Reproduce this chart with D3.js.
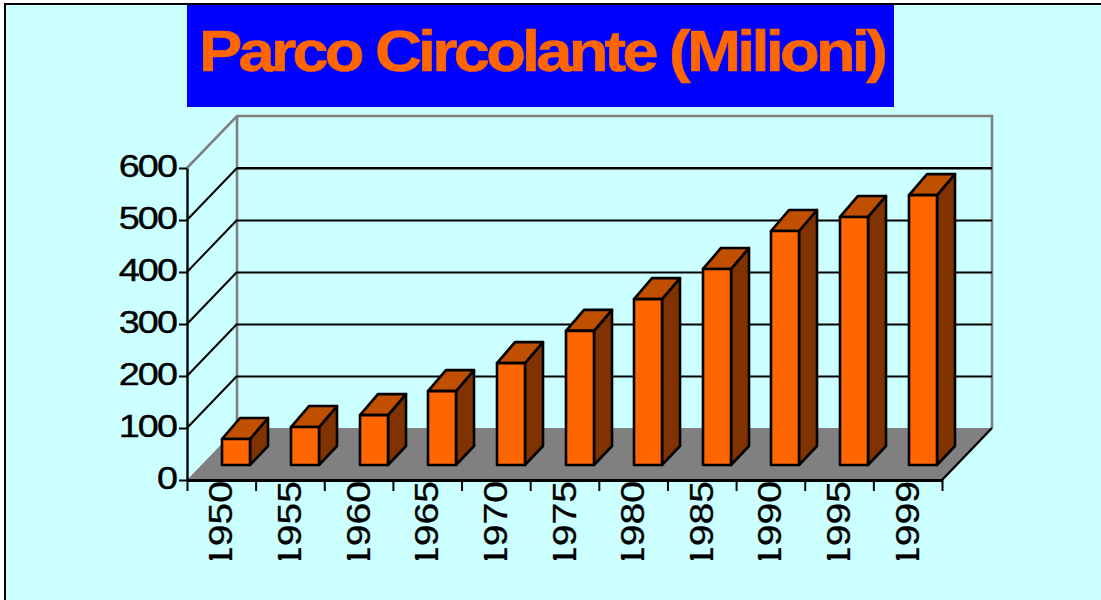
<!DOCTYPE html>
<html><head><meta charset="utf-8">
<script src="https://cdn.jsdelivr.net/npm/d3@7"></script>
<style>html,body{margin:0;padding:0;background:#fff;overflow:hidden}svg{display:block}
text{font-family:"Liberation Sans",Arial,sans-serif}</style></head>
<body><div id="chart"></div>
<script>
const years = ["1950","1955","1960","1965","1970","1975","1980","1985","1990","1995","1999"];
const parco = [50,73,96,142,196,258,319,377,450,477,519];
const yTicks = [0,100,200,300,400,500,600];
const titleText = "Parco Circolante (Milioni)";

const W = 1101, H = 600;
const left = 187, right = 942, base = 480, top600 = 168;
const depthX = 50, depthY = 52;
const barDX = 18, barDY = 21, barBaseShift = 15;

const svg = d3.select("#chart").append("svg").attr("width", W).attr("height", H);
svg.append("rect").attr("width", W).attr("height", H).attr("fill", "#fff");
svg.append("rect").attr("x", 5).attr("y", 4).attr("width", W + 20).attr("height", H + 20)
  .attr("fill", "#CCFFFF").attr("stroke", "#000").attr("stroke-width", 2);

// title
svg.append("rect").attr("x", 187).attr("y", 5).attr("width", 707).attr("height", 102).attr("fill", "#0000FF");
const titleScale = 1.14, titleWidth = 685;
const titleEl = svg.append("text").text(titleText)
  .attr("transform", `translate(199,71) scale(${titleScale},1)`)
  .attr("font-size", 57).attr("font-weight", "bold").attr("fill", "#FF6600")
  .attr("stroke", "#FF6600").attr("stroke-width", 0.6);
const natural = titleEl.node().getComputedTextLength();
titleEl.attr("letter-spacing", (titleWidth / titleScale - natural) / titleText.length);

const x = d3.scaleBand().domain(years).range([left, right]);
const xEdges = d3.scaleLinear().domain([0, years.length]).range([left, right]);
const y = d3.scaleLinear().domain([0, 600]).range([base, top600]);

// back wall
const g = svg.append("g");
const wallTop = y(600) - depthY, wallBase = y(0) - depthY;
g.append("path").attr("d", `M${left},${y(600)}L${left+depthX},${wallTop}H${right+depthX}V${wallBase}`)
  .attr("fill", "none").attr("stroke", "#808080").attr("stroke-width", 2.6);
g.append("line").attr("x1", left+depthX).attr("x2", left+depthX).attr("y1", wallTop).attr("y2", wallBase)
  .attr("stroke", "#808080").attr("stroke-width", 2.6);

// gridlines
g.selectAll("path.grid").data(yTicks.filter(d => d > 0 && d < 600)).enter().append("path")
  .attr("class", "grid")
  .attr("d", d => `M${left},${y(d)}L${left+depthX},${y(d)-depthY}`)
  .attr("fill", "none").attr("stroke", "#000").attr("stroke-width", 2);
g.selectAll("line.grid").data(yTicks.filter(d => d > 0 && d < 600)).enter().append("line")
  .attr("class", "grid")
  .attr("x1", left+depthX).attr("x2", right+depthX)
  .attr("y1", d => y(d)-depthY+0.5).attr("y2", d => y(d)-depthY+0.5)
  .attr("stroke", "#000").attr("stroke-width", 2);
g.append("line").attr("x1", left+depthX).attr("x2", right+depthX)
  .attr("y1", y(600)).attr("y2", y(600)).attr("stroke", "#000").attr("stroke-width", 2);

// floor
g.append("path")
  .attr("d", `M${left},${base}L${left+depthX},${base-depthY}H${right+depthX}L${right},${base}Z`)
  .attr("fill", "#808080");
g.append("path").attr("d", `M${right},${base}L${right+depthX},${base-depthY}`)
  .attr("stroke", "#000").attr("stroke-width", 2.4).attr("fill", "none");

// bars
const barW = 28, barBase = base - barBaseShift;
const barH = d => y(0) - y(d);
const barX = d => Math.round(x(d) + x.bandwidth()/2 + barBaseShift - barW/2);
const bars = g.selectAll("g.bar").data(years.map((yr,i)=>({yr,v:parco[i]}))).enter().append("g").attr("class","bar")
  .attr("stroke", "#000").attr("stroke-width", 2.6).attr("stroke-linejoin", "round");
bars.append("path").attr("fill", "#803300")
  .attr("d", d => { const l = barX(d.yr)+barW, t = barBase-barH(d.v);
    return `M${l},${barBase}V${t}l${barDX},${-barDY}V${barBase-barDY+2}Z`; });
bars.append("path").attr("fill", "#C05000")
  .attr("d", d => { const l = barX(d.yr), t = barBase-barH(d.v);
    return `M${l},${t}l${barDX},${-barDY}h${barW}l${-barDX},${barDY}Z`; });
bars.append("rect").attr("fill", "#FF6600")
  .attr("x", d => barX(d.yr)).attr("width", barW)
  .attr("y", d => barBase-barH(d.v)).attr("height", d => barH(d.v));

// y axis
const yAxis = svg.append("g").attr("transform", `translate(${left},0)`)
  .call(d3.axisLeft(y).tickValues(yTicks).tickSize(8).tickSizeOuter(0));
yAxis.select(".domain").attr("stroke", "#000").attr("stroke-width", 2.4);
yAxis.selectAll(".tick line").attr("stroke", "#000").attr("stroke-width", 2);
yAxis.selectAll(".tick text").attr("font-size", 32).attr("fill", "#000")
  .attr("font-family", null).attr("stroke", "#000").attr("stroke-width", 0.4)
  .attr("x", 0).attr("dy", 0).attr("letter-spacing", -1.6).attr("text-anchor", "end")
  .attr("transform", "translate(-11,8) scale(1.18,1)");

// x axis ticks
const xTickAxis = svg.append("g").attr("transform", `translate(0,${base})`)
  .call(d3.axisBottom(xEdges).tickValues(d3.range(years.length+1)).tickSize(11).tickSizeOuter(0).tickFormat(""));
xTickAxis.select(".domain").attr("stroke", "#000").attr("stroke-width", 3);
xTickAxis.selectAll(".tick line").attr("stroke", "#000").attr("stroke-width", 2);

// x labels, clipped at the bottom like the reference
svg.append("clipPath").attr("id", "xclip").append("rect").attr("x", 0).attr("y", base).attr("width", W).attr("height", 80);
const xLabels = svg.append("g").attr("clip-path", "url(#xclip)").append("g").attr("transform", `translate(0,${base})`)
  .call(d3.axisBottom(x).tickSize(0).tickSizeOuter(0));
xLabels.select(".domain").remove();
xLabels.selectAll(".tick text")
  .attr("font-size", 34).attr("fill", "#000").attr("font-family", null)
  .attr("stroke", "#000").attr("stroke-width", 0.3)
  .attr("text-anchor", "end").attr("x", 0).attr("y", 0).attr("dy", 0)
  .attr("transform", "translate(11,1) rotate(-90) scale(1.15,1)");
</script></body></html>
